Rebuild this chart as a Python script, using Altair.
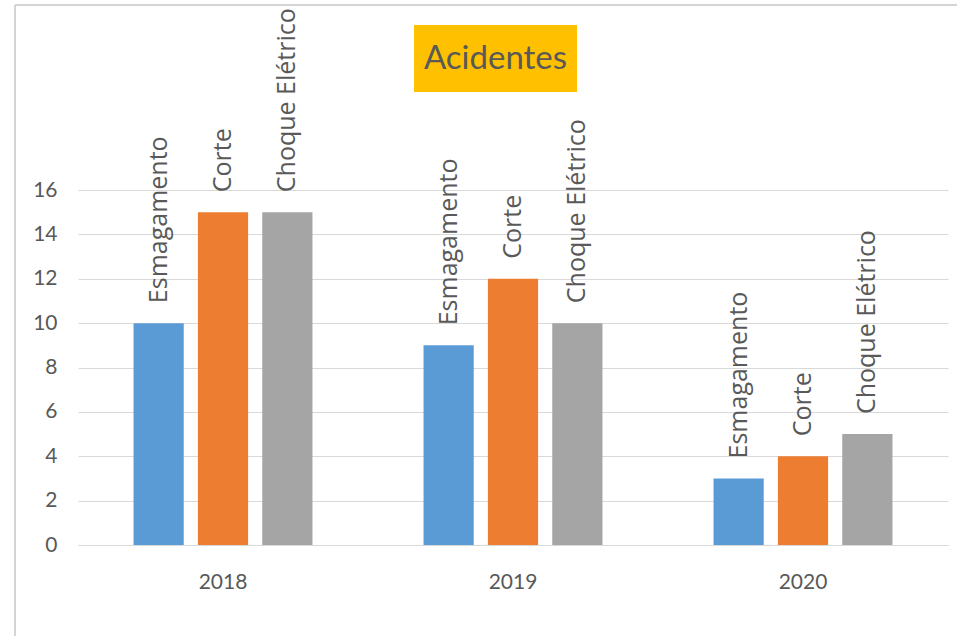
import altair as alt
import pandas as pd

years = ["2018", "2019", "2020"]
tipos = ["Esmagamento", "Corte", "Choque Elétrico"]
esmagamento = [10, 9, 3]
corte = [15, 12, 4]
choque = [15, 10, 5]
y_ticks = [0, 2, 4, 6, 8, 10, 12, 14, 16]
colors = ["#5B9BD5", "#ED7D31", "#A5A5A5"]

rows = []
for i, yr in enumerate(years):
    for t, vals in zip(tipos, [esmagamento, corte, choque]):
        rows.append({"ano": yr, "tipo": t, "valor": vals[i]})
df = pd.DataFrame(rows)

FONT = "Lato"
TXT = "#595959"

x_enc = alt.X("ano:N", sort=years, title=None,
              scale=alt.Scale(paddingInner=0.383, paddingOuter=0.1915),
              axis=alt.Axis(labelAngle=0, ticks=False, domain=True, domainColor="#d9d9d9",
                            domainWidth=1, labelFont=FONT, labelFontSize=21,
                            labelColor=TXT, labelPadding=26, grid=False))
xoff = alt.XOffset("tipo:N", sort=tipos,
                   scale=alt.Scale(paddingInner=0.22, paddingOuter=0))
y_enc = alt.Y("valor:Q", title=None,
              scale=alt.Scale(domain=[0, 16], nice=False, zero=True),
              axis=alt.Axis(values=y_ticks, ticks=False, domain=False, grid=True,
                            gridColor="#d9d9d9", gridWidth=1, labelFont=FONT,
                            labelFontSize=21, labelColor=TXT, labelPadding=21))

base = alt.Chart(df)

bars = base.mark_bar().encode(
    x=x_enc, xOffset=xoff, y=y_enc,
    color=alt.Color("tipo:N", sort=tipos, legend=None,
                    scale=alt.Scale(domain=tipos, range=colors)),
)

labels = base.mark_text(angle=270, align="left", baseline="middle", dx=20,
                        font="Open Sans", fontSize=25, color=TXT).encode(
    x=alt.X("ano:N", sort=years), xOffset=alt.XOffset("tipo:N", sort=tipos),
    y="valor:Q", text="tipo:N",
)

title_df = pd.DataFrame({"t": ["Acidentes"]})
title_box = alt.Chart(title_df).mark_rect(color="#FFC000").encode(
    x=alt.value(336), x2=alt.value(499), y=alt.value(-165), y2=alt.value(-98))
title_txt = alt.Chart(title_df).mark_text(font=FONT, fontSize=33, color=TXT,
                                          align="center", baseline="middle").encode(
    x=alt.value(417.5), y=alt.value(-131), text="t:N")

frame_left = alt.Chart(title_df).mark_rule(color="#d4d4d4", strokeWidth=2).encode(
    x=alt.value(-63), y=alt.value(-185), y2=alt.value(460))
frame_top = alt.Chart(title_df).mark_rule(color="#d4d4d4", strokeWidth=2).encode(
    x=alt.value(-63), x2=alt.value(890), y=alt.value(-185))

chart = alt.layer(bars, labels, title_box, title_txt, frame_left, frame_top).properties(
    width=870, height=355,
    autosize=alt.AutoSizeParams(type="none"),
    padding={"left": 78, "top": 190, "right": 9, "bottom": 91},
    background="white",
).resolve_scale(x="shared", y="shared").configure_view(stroke=None)

chart.save("out.html", embed_options={"renderer": "svg", "actions": False})
